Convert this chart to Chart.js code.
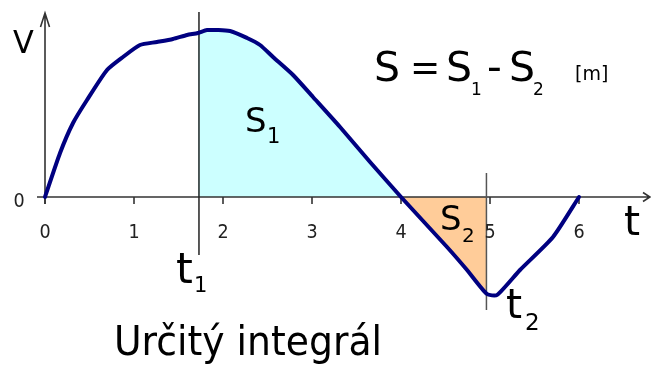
<!DOCTYPE html>
<html>
<head>
<meta charset="utf-8">
<script src="https://cdn.jsdelivr.net/npm/chart.js@4.4.1/dist/chart.umd.min.js"></script>
<style>
html,body{margin:0;padding:0;background:#fff;}
#c{display:block;}
</style>
</head>
<body>
<canvas id="c" width="651" height="367"></canvas>
<script>
// curve v(t)
const curveT = [0, 0.169, 0.315, 0.472, 0.697, 0.876, 1.067, 1.258, 1.438, 1.596, 1.719, 1.82, 2.079, 2.27, 2.416, 2.562, 2.787, 3.011, 3.315, 3.652, 4.0, 4.517, 4.742, 4.966, 5.079, 5.337, 5.708, 6.0];
const curveV = [0, 4.4, 7.4, 9.7, 12.7, 14.0, 15.2, 15.5, 15.8, 16.2, 16.4, 16.7, 16.6, 15.9, 15.2, 14.0, 12.2, 10.0, 7.0, 3.5, 0, -5.0, -7.3, -9.7, -9.8, -7.3, -4.0, 0];
// shaded areas
const s1T = [1.719, 1.82, 2.079, 2.27, 2.416, 2.562, 2.787, 3.011, 3.315, 3.652, 4.0];
const s1V = [16.4, 16.7, 16.6, 15.9, 15.2, 14.0, 12.2, 10.0, 7.0, 3.5, 0];
const s2T = [4.0, 4.517, 4.742, 4.966];
const s2V = [0, -5.0, -7.3, -9.7];
// time marks
const t1 = 1.73, t2 = 4.96;
const tickValues = [0, 1, 2, 3, 4, 5, 6];
const tickLabels = ['0', '1', '2', '3', '4', '5', '6'];
const yTickLabels = ['0'];

const pts = (ts, vs) => ts.map((t, i) => ({x: t, y: vs[i]}));

const FONT = '"DejaVu Sans", Verdana, sans-serif';
function txt(ctx, s, x, y, size, opt = {}) {
  ctx.save();
  ctx.font = (opt.weight || 'normal') + ' ' + size + 'px ' + FONT;
  ctx.fillStyle = opt.color || '#000';
  ctx.textAlign = opt.align || 'left';
  ctx.textBaseline = 'alphabetic';
  ctx.translate(x, y);
  ctx.scale(opt.sx || 1, 1);
  ctx.fillText(s, 0, 0);
  ctx.restore();
}

const axesPlugin = {
  id: 'axesPlugin',
  beforeDatasetsDraw(chart) {
    const ctx = chart.ctx, xs = chart.scales.x, ys = chart.scales.y;
    const x0 = xs.getPixelForValue(0), y0 = ys.getPixelForValue(0);
    ctx.save();
    ctx.strokeStyle = '#333';
    ctx.lineWidth = 1.6;
    // x axis
    ctx.beginPath();
    ctx.moveTo(x0 - 8, y0); ctx.lineTo(650, y0);
    ctx.moveTo(643, y0 - 4.5); ctx.lineTo(650, y0); ctx.lineTo(643, y0 + 4.5);
    ctx.stroke();
    // y axis
    ctx.beginPath();
    ctx.moveTo(x0, y0 + 7); ctx.lineTo(x0, 13);
    ctx.moveTo(x0 - 4.5, 27); ctx.lineTo(x0, 13); ctx.lineTo(x0 + 4.5, 27);
    ctx.stroke();
    // ticks
    ctx.beginPath();
    tickValues.forEach(v => {
      const px = xs.getPixelForValue(v);
      ctx.moveTo(px, y0); ctx.lineTo(px, y0 + 7);
    });
    ctx.stroke();
    // vertical marks t1, t2
    ctx.lineWidth = 1.5;
    ctx.strokeStyle = '#222';
    ctx.beginPath();
    let p = xs.getPixelForValue(t1);
    ctx.moveTo(p, 12); ctx.lineTo(p, 255);
    ctx.stroke();
    ctx.strokeStyle = '#555';
    ctx.beginPath();
    p = xs.getPixelForValue(t2);
    ctx.moveTo(p, 173); ctx.lineTo(p, 310);
    ctx.stroke();
    ctx.restore();
    // tick labels
    tickValues.forEach((v, i) => {
      txt(ctx, tickLabels[i], xs.getPixelForValue(v), y0 + 41, 20, {align: 'center', color: '#222', sx: 0.88});
    });
    txt(ctx, yTickLabels[0], 19, y0 + 10, 20, {align: 'center', color: '#222', sx: 0.88});
  },
  afterDatasetsDraw(chart) {
    const ctx = chart.ctx;
    txt(ctx, 'V', 13, 53, 32, {sx: 0.95});
    txt(ctx, 't', 624, 235, 41);
    txt(ctx, 't', 176, 283, 43);
    txt(ctx, '1', 194, 292, 21);
    txt(ctx, 't', 506, 318, 41);
    txt(ctx, '2', 525, 330, 23);
    txt(ctx, 'S', 245, 132, 34);
    txt(ctx, '1', 267, 143, 21);
    txt(ctx, 'S', 440, 230, 34);
    txt(ctx, '2', 462, 242, 20);
    // formula
    txt(ctx, 'S', 374, 81, 41);
    txt(ctx, '=', 410, 80, 38, {sx: 0.95});
    txt(ctx, 'S', 446, 81, 41);
    txt(ctx, '1', 471, 95, 17);
    txt(ctx, '-', 487, 81, 41);
    txt(ctx, 'S', 509, 81, 41);
    txt(ctx, '2', 533, 95, 17);
    txt(ctx, '[m]', 575, 80, 20, {sx: 0.95});
    txt(ctx, 'Určitý integrál', 114, 355, 41, {sx: 0.92});
  }
};

new Chart(document.getElementById('c'), {
  type: 'scatter',
  data: {
    datasets: [
      {data: pts(s1T, s1V), showLine: true, fill: 'origin', backgroundColor: '#ccffff', borderColor: 'rgba(0,0,0,0)', borderWidth: 0, pointRadius: 0, tension: 0.25, order: 3},
      {data: pts(s2T, s2V), showLine: true, fill: 'origin', backgroundColor: '#ffcc99', borderColor: 'rgba(0,0,0,0)', borderWidth: 0, pointRadius: 0, tension: 0.25, order: 2},
      {data: pts(curveT, curveV), showLine: true, fill: false, borderColor: '#000080', borderWidth: 4, pointRadius: 0, tension: 0.2, borderCapStyle: 'round', borderJoinStyle: 'round', order: 1}
    ]
  },
  options: {
    responsive: false,
    animation: false,
    layout: {padding: 0},
    plugins: {legend: {display: false}, tooltip: {enabled: false}, filler: {drawTime: 'beforeDraw'}},
    scales: {
      x: {type: 'linear', display: false, min: -45 / 89, max: 606 / 89},
      y: {type: 'linear', display: false, min: -17.0, max: 19.7}
    }
  },
  plugins: [axesPlugin]
});
</script>
</body>
</html>
